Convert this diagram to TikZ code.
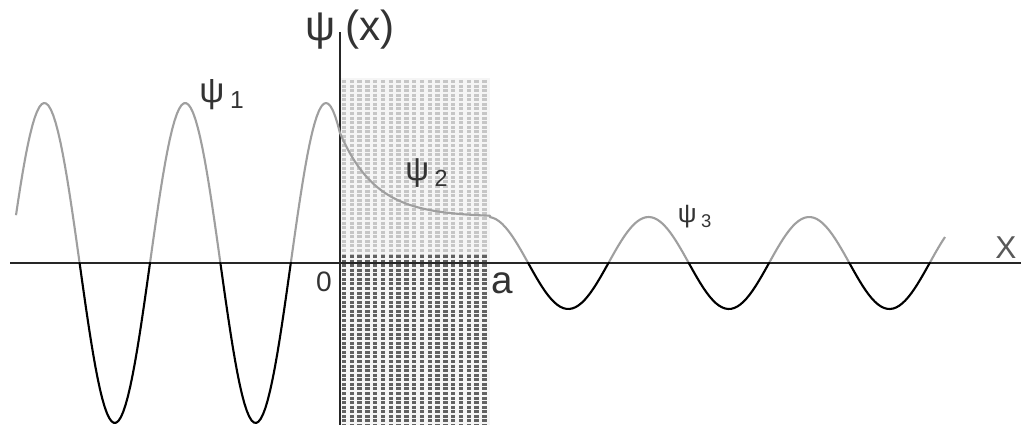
\documentclass[tikz,border=0pt]{standalone}
\usepackage{fontspec}
\setmainfont{Liberation Sans}
\usetikzlibrary{positioning}

\begin{document}
\begin{tikzpicture}[x=0.02cm, y=-0.02cm, line join=round,
    axisline/.style={black!85, line width=1.1pt},
    wave/.style={line width=1.2pt},
    lbl/.style={inner sep=0pt, text=black!80}]
  \useasboundingbox (0,0) rectangle (1021,425);
  % barrier 0 < x < a
  \fill[gray!8] (340,78) rectangle (490,425);
  \foreach \c in {344,351.8,...,489}
    \draw[gray!45, line width=2.5pt, dash pattern=on 1.7pt off 0.9pt] (\c,80) -- (\c,255);
  \foreach \c in {344,351.8,...,489}
    \draw[black!62, line width=2.5pt, dash pattern=on 1.7pt off 0.9pt] (\c,255) -- (\c,425);
  % axes
  \coordinate (xl) at (10,263);
  \coordinate (xr) at (1021,263);
  \coordinate (yt) at (340,32);
  \coordinate (yb) at (340,425);
  \draw[axisline] (xl) -- (xr);
  \draw[axisline] (yt) -- (yb);
  % psi_1, psi_2, psi_3 (grey above the axis, black below)
  \foreach \lo/\hi/\col in {0/263/gray!75, 263/425/black} {
    \begin{scope}
      \clip (0,\lo) rectangle (1021,\hi);
      \draw[wave, \col] plot[domain=16:340, samples=140] (\x, {263-160*cos(2.5568*(\x-326))})
        -- plot[domain=340:490, samples=60] (\x, {217-84*exp(-(\x-340)/36)})
        -- plot[domain=490:945, samples=150] (\x, {263-46*cos(2.2416*(\x-488))});
    \end{scope}
  }
  \node[lbl, font=\fontsize{24}{26}\selectfont] (psix) at (350,30) {ψ\hspace{6pt}(x)};
  \node[lbl, font=\fontsize{20}{22}\selectfont] (psi1) at (222,95) {ψ\,\textsubscript{1}};
  \node[lbl, font=\fontsize{19}{21}\selectfont] (psi2) at (427,173) {ψ\,\textsubscript{2}};
  \node[lbl, font=\fontsize{15}{17}\selectfont] (psi3) at (695,217) {ψ\,\textsubscript{3}};
  \node[lbl, font=\fontsize{16}{18}\selectfont] (zero) at (324,282) {0};
  \node[lbl, font=\fontsize{22}{24}\selectfont] (a) at (502,283) {a};
  \node[lbl, font=\fontsize{18}{20}\selectfont, text=black!65] (x) at (1006,248) {X};
\end{tikzpicture}
\end{document}
